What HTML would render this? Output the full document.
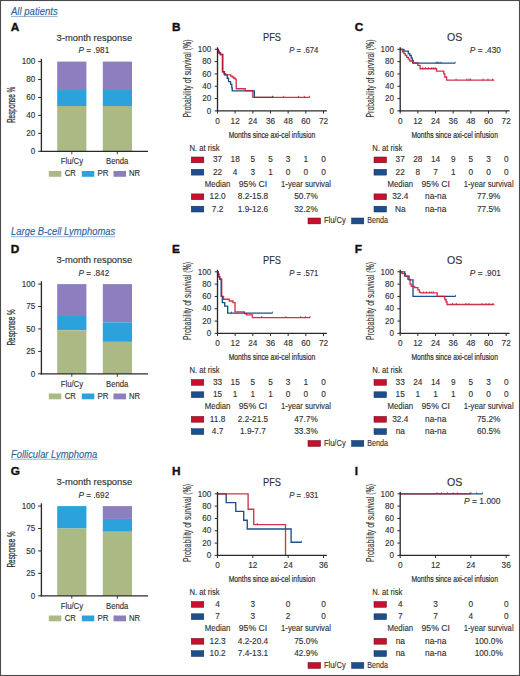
<!DOCTYPE html>
<html><head><meta charset="utf-8"><style>
html,body{margin:0;padding:0;background:#fff;}
body{width:520px;height:676px;overflow:hidden;position:relative;}
svg{position:absolute;left:0;top:0;font-family:"Liberation Sans", sans-serif;}
</style></head><body>
<svg width="520" height="676" viewBox="0 0 520 676">
<rect x="0" y="0" width="520" height="676" fill="#fff"/>
<text x="11.00" y="15.00" font-size="10.2" text-anchor="start" fill="#2f5f97" stroke="#2f5f97" stroke-width="0.12" textLength="46.70" lengthAdjust="spacingAndGlyphs" font-style="italic">All patients</text>
<line x1="11.00" y1="16.40" x2="57.70" y2="16.40" stroke="#7f9cc0" stroke-width="0.8"/>
<text x="11.00" y="235.30" font-size="10.2" text-anchor="start" fill="#2f5f97" stroke="#2f5f97" stroke-width="0.12" textLength="104.25" lengthAdjust="spacingAndGlyphs" font-style="italic">Large B-cell Lymphomas</text>
<line x1="11.00" y1="236.70" x2="115.25" y2="236.70" stroke="#7f9cc0" stroke-width="0.8"/>
<text x="11.00" y="457.80" font-size="10.2" text-anchor="start" fill="#2f5f97" stroke="#2f5f97" stroke-width="0.12" textLength="86.25" lengthAdjust="spacingAndGlyphs" font-style="italic">Follicular Lymphoma</text>
<line x1="11.00" y1="459.20" x2="97.25" y2="459.20" stroke="#7f9cc0" stroke-width="0.8"/>
<text x="10.80" y="30.90" font-size="11.8" text-anchor="start" fill="#111" stroke="#111" stroke-width="0.4" font-weight="bold">A</text>
<text x="172.10" y="30.90" font-size="11.8" text-anchor="start" fill="#111" stroke="#111" stroke-width="0.4" font-weight="bold">B</text>
<text x="354.80" y="30.90" font-size="11.8" text-anchor="start" fill="#111" stroke="#111" stroke-width="0.4" font-weight="bold">C</text>
<text x="10.80" y="253.40" font-size="11.8" text-anchor="start" fill="#111" stroke="#111" stroke-width="0.4" font-weight="bold">D</text>
<text x="172.10" y="253.40" font-size="11.8" text-anchor="start" fill="#111" stroke="#111" stroke-width="0.4" font-weight="bold">E</text>
<text x="354.80" y="253.40" font-size="11.8" text-anchor="start" fill="#111" stroke="#111" stroke-width="0.4" font-weight="bold">F</text>
<text x="10.80" y="475.40" font-size="11.8" text-anchor="start" fill="#111" stroke="#111" stroke-width="0.4" font-weight="bold">G</text>
<text x="172.10" y="475.40" font-size="11.8" text-anchor="start" fill="#111" stroke="#111" stroke-width="0.4" font-weight="bold">H</text>
<text x="354.80" y="475.40" font-size="11.8" text-anchor="start" fill="#111" stroke="#111" stroke-width="0.4" font-weight="bold">I</text>
<text x="56.60" y="40.90" font-size="9" text-anchor="start" fill="#2e2e2e" stroke="#2e2e2e" stroke-width="0.12" textLength="75.60" lengthAdjust="spacingAndGlyphs">3-month response</text>
<text transform="translate(14.6,104.90) rotate(-90)" x="0" y="0" font-size="10.4" text-anchor="middle" fill="#2e2e2e" stroke="#2e2e2e" stroke-width="0.25" textLength="36.3" lengthAdjust="spacingAndGlyphs">Response %</text>
<text x="78.5" y="53.20" font-size="9" fill="#2e2e2e" stroke="#2e2e2e" stroke-width="0.12" textLength="30.7" lengthAdjust="spacingAndGlyphs"><tspan font-style="italic">P</tspan> = .981</text>
<rect x="57.20" y="61.60" width="29.20" height="28.43" fill="#8d7fbf"/>
<rect x="57.20" y="90.03" width="29.20" height="15.97" fill="#2ba2dc"/>
<rect x="57.20" y="106.00" width="29.20" height="45.30" fill="#abb985"/>
<rect x="102.80" y="61.60" width="29.20" height="28.43" fill="#8d7fbf"/>
<rect x="102.80" y="90.03" width="29.20" height="15.97" fill="#2ba2dc"/>
<rect x="102.80" y="106.00" width="29.20" height="45.30" fill="#abb985"/>
<line x1="41.40" y1="58.80" x2="41.40" y2="151.90" stroke="#2a2a2a" stroke-width="1.35"/>
<line x1="40.70" y1="151.30" x2="148.00" y2="151.30" stroke="#2a2a2a" stroke-width="1.35"/>
<line x1="38.20" y1="151.30" x2="41.40" y2="151.30" stroke="#2a2a2a" stroke-width="1"/>
<text x="35.20" y="154.00" font-size="8.4" text-anchor="end" fill="#2e2e2e" stroke="#2e2e2e" stroke-width="0.12" textLength="4.50" lengthAdjust="spacingAndGlyphs">0</text>
<line x1="38.20" y1="133.36" x2="41.40" y2="133.36" stroke="#2a2a2a" stroke-width="1"/>
<text x="35.20" y="136.06" font-size="8.4" text-anchor="end" fill="#2e2e2e" stroke="#2e2e2e" stroke-width="0.12" textLength="9.00" lengthAdjust="spacingAndGlyphs">20</text>
<line x1="38.20" y1="115.42" x2="41.40" y2="115.42" stroke="#2a2a2a" stroke-width="1"/>
<text x="35.20" y="118.12" font-size="8.4" text-anchor="end" fill="#2e2e2e" stroke="#2e2e2e" stroke-width="0.12" textLength="9.00" lengthAdjust="spacingAndGlyphs">40</text>
<line x1="38.20" y1="97.48" x2="41.40" y2="97.48" stroke="#2a2a2a" stroke-width="1"/>
<text x="35.20" y="100.18" font-size="8.4" text-anchor="end" fill="#2e2e2e" stroke="#2e2e2e" stroke-width="0.12" textLength="9.00" lengthAdjust="spacingAndGlyphs">60</text>
<line x1="38.20" y1="79.54" x2="41.40" y2="79.54" stroke="#2a2a2a" stroke-width="1"/>
<text x="35.20" y="82.24" font-size="8.4" text-anchor="end" fill="#2e2e2e" stroke="#2e2e2e" stroke-width="0.12" textLength="9.00" lengthAdjust="spacingAndGlyphs">80</text>
<line x1="38.20" y1="61.60" x2="41.40" y2="61.60" stroke="#2a2a2a" stroke-width="1"/>
<text x="35.20" y="64.30" font-size="8.4" text-anchor="end" fill="#2e2e2e" stroke="#2e2e2e" stroke-width="0.12" textLength="13.50" lengthAdjust="spacingAndGlyphs">100</text>
<line x1="71.80" y1="151.30" x2="71.80" y2="154.30" stroke="#2a2a2a" stroke-width="0.9"/>
<line x1="117.30" y1="151.30" x2="117.30" y2="154.30" stroke="#2a2a2a" stroke-width="0.9"/>
<text x="71.90" y="164.30" font-size="8.5" text-anchor="middle" fill="#2e2e2e" stroke="#2e2e2e" stroke-width="0.12" textLength="22.50" lengthAdjust="spacingAndGlyphs">Flu/Cy</text>
<text x="117.20" y="164.30" font-size="8.5" text-anchor="middle" fill="#2e2e2e" stroke="#2e2e2e" stroke-width="0.12" textLength="22.30" lengthAdjust="spacingAndGlyphs">Benda</text>
<rect x="48.80" y="171.00" width="12.50" height="5.80" fill="#abb985"/>
<text x="64.70" y="176.40" font-size="8.4" text-anchor="start" fill="#2e2e2e" stroke="#2e2e2e" stroke-width="0.12" textLength="11.10" lengthAdjust="spacingAndGlyphs">CR</text>
<rect x="81.80" y="171.00" width="12.50" height="5.80" fill="#2ba2dc"/>
<text x="97.50" y="176.40" font-size="8.4" text-anchor="start" fill="#2e2e2e" stroke="#2e2e2e" stroke-width="0.12" textLength="11.10" lengthAdjust="spacingAndGlyphs">PR</text>
<rect x="113.50" y="171.00" width="12.50" height="5.80" fill="#8d7fbf"/>
<text x="128.90" y="176.40" font-size="8.4" text-anchor="start" fill="#2e2e2e" stroke="#2e2e2e" stroke-width="0.12" textLength="11.10" lengthAdjust="spacingAndGlyphs">NR</text>
<text x="56.60" y="263.40" font-size="9" text-anchor="start" fill="#2e2e2e" stroke="#2e2e2e" stroke-width="0.12" textLength="75.60" lengthAdjust="spacingAndGlyphs">3-month response</text>
<text transform="translate(14.6,327.40) rotate(-90)" x="0" y="0" font-size="10.4" text-anchor="middle" fill="#2e2e2e" stroke="#2e2e2e" stroke-width="0.25" textLength="36.3" lengthAdjust="spacingAndGlyphs">Response %</text>
<text x="78.5" y="275.70" font-size="9" fill="#2e2e2e" stroke="#2e2e2e" stroke-width="0.12" textLength="30.7" lengthAdjust="spacingAndGlyphs"><tspan font-style="italic">P</tspan> = .842</text>
<rect x="57.20" y="284.10" width="29.20" height="31.93" fill="#8d7fbf"/>
<rect x="57.20" y="316.03" width="29.20" height="14.26" fill="#2ba2dc"/>
<rect x="57.20" y="330.30" width="29.20" height="43.50" fill="#abb985"/>
<rect x="102.80" y="284.10" width="29.20" height="38.21" fill="#8d7fbf"/>
<rect x="102.80" y="322.31" width="29.20" height="19.55" fill="#2ba2dc"/>
<rect x="102.80" y="341.87" width="29.20" height="31.93" fill="#abb985"/>
<line x1="41.40" y1="281.30" x2="41.40" y2="374.40" stroke="#2a2a2a" stroke-width="1.35"/>
<line x1="40.70" y1="373.80" x2="148.00" y2="373.80" stroke="#2a2a2a" stroke-width="1.35"/>
<line x1="38.20" y1="373.80" x2="41.40" y2="373.80" stroke="#2a2a2a" stroke-width="1"/>
<text x="35.20" y="376.50" font-size="8.4" text-anchor="end" fill="#2e2e2e" stroke="#2e2e2e" stroke-width="0.12" textLength="4.50" lengthAdjust="spacingAndGlyphs">0</text>
<line x1="38.20" y1="351.38" x2="41.40" y2="351.38" stroke="#2a2a2a" stroke-width="1"/>
<text x="35.20" y="354.07" font-size="8.4" text-anchor="end" fill="#2e2e2e" stroke="#2e2e2e" stroke-width="0.12" textLength="9.00" lengthAdjust="spacingAndGlyphs">25</text>
<line x1="38.20" y1="328.95" x2="41.40" y2="328.95" stroke="#2a2a2a" stroke-width="1"/>
<text x="35.20" y="331.65" font-size="8.4" text-anchor="end" fill="#2e2e2e" stroke="#2e2e2e" stroke-width="0.12" textLength="9.00" lengthAdjust="spacingAndGlyphs">50</text>
<line x1="38.20" y1="306.53" x2="41.40" y2="306.53" stroke="#2a2a2a" stroke-width="1"/>
<text x="35.20" y="309.23" font-size="8.4" text-anchor="end" fill="#2e2e2e" stroke="#2e2e2e" stroke-width="0.12" textLength="9.00" lengthAdjust="spacingAndGlyphs">75</text>
<line x1="38.20" y1="284.10" x2="41.40" y2="284.10" stroke="#2a2a2a" stroke-width="1"/>
<text x="35.20" y="286.80" font-size="8.4" text-anchor="end" fill="#2e2e2e" stroke="#2e2e2e" stroke-width="0.12" textLength="13.50" lengthAdjust="spacingAndGlyphs">100</text>
<line x1="71.80" y1="373.80" x2="71.80" y2="376.80" stroke="#2a2a2a" stroke-width="0.9"/>
<line x1="117.30" y1="373.80" x2="117.30" y2="376.80" stroke="#2a2a2a" stroke-width="0.9"/>
<text x="71.90" y="386.80" font-size="8.5" text-anchor="middle" fill="#2e2e2e" stroke="#2e2e2e" stroke-width="0.12" textLength="22.50" lengthAdjust="spacingAndGlyphs">Flu/Cy</text>
<text x="117.20" y="386.80" font-size="8.5" text-anchor="middle" fill="#2e2e2e" stroke="#2e2e2e" stroke-width="0.12" textLength="22.30" lengthAdjust="spacingAndGlyphs">Benda</text>
<rect x="48.80" y="393.50" width="12.50" height="5.80" fill="#abb985"/>
<text x="64.70" y="398.90" font-size="8.4" text-anchor="start" fill="#2e2e2e" stroke="#2e2e2e" stroke-width="0.12" textLength="11.10" lengthAdjust="spacingAndGlyphs">CR</text>
<rect x="81.80" y="393.50" width="12.50" height="5.80" fill="#2ba2dc"/>
<text x="97.50" y="398.90" font-size="8.4" text-anchor="start" fill="#2e2e2e" stroke="#2e2e2e" stroke-width="0.12" textLength="11.10" lengthAdjust="spacingAndGlyphs">PR</text>
<rect x="113.50" y="393.50" width="12.50" height="5.80" fill="#8d7fbf"/>
<text x="128.90" y="398.90" font-size="8.4" text-anchor="start" fill="#2e2e2e" stroke="#2e2e2e" stroke-width="0.12" textLength="11.10" lengthAdjust="spacingAndGlyphs">NR</text>
<text x="56.60" y="485.40" font-size="9" text-anchor="start" fill="#2e2e2e" stroke="#2e2e2e" stroke-width="0.12" textLength="75.60" lengthAdjust="spacingAndGlyphs">3-month response</text>
<text transform="translate(14.6,549.40) rotate(-90)" x="0" y="0" font-size="10.4" text-anchor="middle" fill="#2e2e2e" stroke="#2e2e2e" stroke-width="0.25" textLength="36.3" lengthAdjust="spacingAndGlyphs">Response %</text>
<text x="78.5" y="497.70" font-size="9" fill="#2e2e2e" stroke="#2e2e2e" stroke-width="0.12" textLength="30.7" lengthAdjust="spacingAndGlyphs"><tspan font-style="italic">P</tspan> = .692</text>
<rect x="57.20" y="506.10" width="29.20" height="0.00" fill="#8d7fbf"/>
<rect x="57.20" y="506.10" width="29.20" height="22.42" fill="#2ba2dc"/>
<rect x="57.20" y="528.52" width="29.20" height="67.27" fill="#abb985"/>
<rect x="102.80" y="506.10" width="29.20" height="12.83" fill="#8d7fbf"/>
<rect x="102.80" y="518.93" width="29.20" height="12.83" fill="#2ba2dc"/>
<rect x="102.80" y="531.75" width="29.20" height="64.05" fill="#abb985"/>
<line x1="41.40" y1="503.30" x2="41.40" y2="596.40" stroke="#2a2a2a" stroke-width="1.35"/>
<line x1="40.70" y1="595.80" x2="148.00" y2="595.80" stroke="#2a2a2a" stroke-width="1.35"/>
<line x1="38.20" y1="595.80" x2="41.40" y2="595.80" stroke="#2a2a2a" stroke-width="1"/>
<text x="35.20" y="598.50" font-size="8.4" text-anchor="end" fill="#2e2e2e" stroke="#2e2e2e" stroke-width="0.12" textLength="4.50" lengthAdjust="spacingAndGlyphs">0</text>
<line x1="38.20" y1="573.38" x2="41.40" y2="573.38" stroke="#2a2a2a" stroke-width="1"/>
<text x="35.20" y="576.08" font-size="8.4" text-anchor="end" fill="#2e2e2e" stroke="#2e2e2e" stroke-width="0.12" textLength="9.00" lengthAdjust="spacingAndGlyphs">25</text>
<line x1="38.20" y1="550.95" x2="41.40" y2="550.95" stroke="#2a2a2a" stroke-width="1"/>
<text x="35.20" y="553.65" font-size="8.4" text-anchor="end" fill="#2e2e2e" stroke="#2e2e2e" stroke-width="0.12" textLength="9.00" lengthAdjust="spacingAndGlyphs">50</text>
<line x1="38.20" y1="528.52" x2="41.40" y2="528.52" stroke="#2a2a2a" stroke-width="1"/>
<text x="35.20" y="531.23" font-size="8.4" text-anchor="end" fill="#2e2e2e" stroke="#2e2e2e" stroke-width="0.12" textLength="9.00" lengthAdjust="spacingAndGlyphs">75</text>
<line x1="38.20" y1="506.10" x2="41.40" y2="506.10" stroke="#2a2a2a" stroke-width="1"/>
<text x="35.20" y="508.80" font-size="8.4" text-anchor="end" fill="#2e2e2e" stroke="#2e2e2e" stroke-width="0.12" textLength="13.50" lengthAdjust="spacingAndGlyphs">100</text>
<line x1="71.80" y1="595.80" x2="71.80" y2="598.80" stroke="#2a2a2a" stroke-width="0.9"/>
<line x1="117.30" y1="595.80" x2="117.30" y2="598.80" stroke="#2a2a2a" stroke-width="0.9"/>
<text x="71.90" y="608.80" font-size="8.5" text-anchor="middle" fill="#2e2e2e" stroke="#2e2e2e" stroke-width="0.12" textLength="22.50" lengthAdjust="spacingAndGlyphs">Flu/Cy</text>
<text x="117.20" y="608.80" font-size="8.5" text-anchor="middle" fill="#2e2e2e" stroke="#2e2e2e" stroke-width="0.12" textLength="22.30" lengthAdjust="spacingAndGlyphs">Benda</text>
<rect x="48.80" y="615.50" width="12.50" height="5.80" fill="#abb985"/>
<text x="64.70" y="620.90" font-size="8.4" text-anchor="start" fill="#2e2e2e" stroke="#2e2e2e" stroke-width="0.12" textLength="11.10" lengthAdjust="spacingAndGlyphs">CR</text>
<rect x="81.80" y="615.50" width="12.50" height="5.80" fill="#2ba2dc"/>
<text x="97.50" y="620.90" font-size="8.4" text-anchor="start" fill="#2e2e2e" stroke="#2e2e2e" stroke-width="0.12" textLength="11.10" lengthAdjust="spacingAndGlyphs">PR</text>
<rect x="113.50" y="615.50" width="12.50" height="5.80" fill="#8d7fbf"/>
<text x="128.90" y="620.90" font-size="8.4" text-anchor="start" fill="#2e2e2e" stroke="#2e2e2e" stroke-width="0.12" textLength="11.10" lengthAdjust="spacingAndGlyphs">NR</text>
<text x="272.00" y="41.10" font-size="10.5" text-anchor="middle" fill="#2e2e2e" stroke="#2e2e2e" stroke-width="0.12" textLength="18.00" lengthAdjust="spacingAndGlyphs">PFS</text>
<text x="318.30" y="53.40" font-size="9" text-anchor="end" fill="#2e2e2e" stroke="#2e2e2e" stroke-width="0.12" textLength="29" lengthAdjust="spacingAndGlyphs"><tspan font-style="italic">P</tspan> = .674</text>
<text transform="translate(191.20,78.50) rotate(-90)" x="0" y="0" font-size="10" text-anchor="middle" fill="#2e2e2e" stroke="#2e2e2e" stroke-width="0.12" textLength="78" lengthAdjust="spacingAndGlyphs">Probability of survival (%)</text>
<path d="M217.50,49.30 H218.24 V51.15 H218.97 V53.00 H220.44 V54.54 H222.80 V71.78 H224.42 V74.80 H227.22 V78.25 H228.54 V81.64 H230.60 V84.41 H231.78 V87.80 H232.22 V90.88 H254.31 V97.35 H272.71" fill="none" stroke="#1d4f8c" stroke-width="1.35"/>
<path d="M217.50,49.30 H218.24 V51.15 H218.97 V53.00 H220.44 V54.54 H222.36 V71.78 H223.98 V73.63 H225.60 V74.80 H230.75 V76.10 H232.22 V77.02 H233.69 V78.25 H235.17 V79.18 H236.20 V88.72 H245.18 V90.57 H252.83 V97.35 H309.66" fill="none" stroke="#c8102e" stroke-width="1.35" stroke-opacity="0.85"/>
<line x1="272.71" y1="95.85" x2="272.71" y2="97.65" stroke="#c8102e" stroke-width="0.8"/>
<line x1="283.75" y1="95.85" x2="283.75" y2="97.65" stroke="#c8102e" stroke-width="0.8"/>
<line x1="298.47" y1="95.85" x2="298.47" y2="97.65" stroke="#c8102e" stroke-width="0.8"/>
<line x1="304.36" y1="95.85" x2="304.36" y2="97.65" stroke="#c8102e" stroke-width="0.8"/>
<line x1="309.66" y1="95.85" x2="309.66" y2="97.65" stroke="#c8102e" stroke-width="0.8"/>
<line x1="272.71" y1="95.85" x2="272.71" y2="97.65" stroke="#1d4f8c" stroke-width="0.8"/>
<line x1="217.50" y1="47.30" x2="217.50" y2="111.50" stroke="#2a2a2a" stroke-width="1.35"/>
<line x1="216.90" y1="110.90" x2="326.90" y2="110.90" stroke="#2a2a2a" stroke-width="1.35"/>
<line x1="214.70" y1="110.90" x2="217.50" y2="110.90" stroke="#2a2a2a" stroke-width="1"/>
<text x="211.20" y="113.60" font-size="8.4" text-anchor="end" fill="#2e2e2e" stroke="#2e2e2e" stroke-width="0.12" textLength="4.50" lengthAdjust="spacingAndGlyphs">0</text>
<line x1="214.70" y1="98.58" x2="217.50" y2="98.58" stroke="#2a2a2a" stroke-width="1"/>
<text x="211.20" y="101.28" font-size="8.4" text-anchor="end" fill="#2e2e2e" stroke="#2e2e2e" stroke-width="0.12" textLength="9.00" lengthAdjust="spacingAndGlyphs">20</text>
<line x1="214.70" y1="86.26" x2="217.50" y2="86.26" stroke="#2a2a2a" stroke-width="1"/>
<text x="211.20" y="88.96" font-size="8.4" text-anchor="end" fill="#2e2e2e" stroke="#2e2e2e" stroke-width="0.12" textLength="9.00" lengthAdjust="spacingAndGlyphs">40</text>
<line x1="214.70" y1="73.94" x2="217.50" y2="73.94" stroke="#2a2a2a" stroke-width="1"/>
<text x="211.20" y="76.64" font-size="8.4" text-anchor="end" fill="#2e2e2e" stroke="#2e2e2e" stroke-width="0.12" textLength="9.00" lengthAdjust="spacingAndGlyphs">60</text>
<line x1="214.70" y1="61.62" x2="217.50" y2="61.62" stroke="#2a2a2a" stroke-width="1"/>
<text x="211.20" y="64.32" font-size="8.4" text-anchor="end" fill="#2e2e2e" stroke="#2e2e2e" stroke-width="0.12" textLength="9.00" lengthAdjust="spacingAndGlyphs">80</text>
<line x1="214.70" y1="49.30" x2="217.50" y2="49.30" stroke="#2a2a2a" stroke-width="1"/>
<text x="211.20" y="52.00" font-size="8.4" text-anchor="end" fill="#2e2e2e" stroke="#2e2e2e" stroke-width="0.12" textLength="13.50" lengthAdjust="spacingAndGlyphs">100</text>
<line x1="217.50" y1="110.90" x2="217.50" y2="113.50" stroke="#2a2a2a" stroke-width="1"/>
<text x="217.50" y="123.70" font-size="8.4" text-anchor="middle" fill="#2e2e2e" stroke="#2e2e2e" stroke-width="0.12" textLength="4.60" lengthAdjust="spacingAndGlyphs">0</text>
<line x1="235.17" y1="110.90" x2="235.17" y2="113.50" stroke="#2a2a2a" stroke-width="1"/>
<text x="235.17" y="123.70" font-size="8.4" text-anchor="middle" fill="#2e2e2e" stroke="#2e2e2e" stroke-width="0.12" textLength="9.20" lengthAdjust="spacingAndGlyphs">12</text>
<line x1="252.83" y1="110.90" x2="252.83" y2="113.50" stroke="#2a2a2a" stroke-width="1"/>
<text x="252.83" y="123.70" font-size="8.4" text-anchor="middle" fill="#2e2e2e" stroke="#2e2e2e" stroke-width="0.12" textLength="9.20" lengthAdjust="spacingAndGlyphs">24</text>
<line x1="270.50" y1="110.90" x2="270.50" y2="113.50" stroke="#2a2a2a" stroke-width="1"/>
<text x="270.50" y="123.70" font-size="8.4" text-anchor="middle" fill="#2e2e2e" stroke="#2e2e2e" stroke-width="0.12" textLength="9.20" lengthAdjust="spacingAndGlyphs">36</text>
<line x1="288.17" y1="110.90" x2="288.17" y2="113.50" stroke="#2a2a2a" stroke-width="1"/>
<text x="288.17" y="123.70" font-size="8.4" text-anchor="middle" fill="#2e2e2e" stroke="#2e2e2e" stroke-width="0.12" textLength="9.20" lengthAdjust="spacingAndGlyphs">48</text>
<line x1="305.83" y1="110.90" x2="305.83" y2="113.50" stroke="#2a2a2a" stroke-width="1"/>
<text x="305.83" y="123.70" font-size="8.4" text-anchor="middle" fill="#2e2e2e" stroke="#2e2e2e" stroke-width="0.12" textLength="9.20" lengthAdjust="spacingAndGlyphs">60</text>
<line x1="323.50" y1="110.90" x2="323.50" y2="113.50" stroke="#2a2a2a" stroke-width="1"/>
<text x="323.50" y="123.70" font-size="8.4" text-anchor="middle" fill="#2e2e2e" stroke="#2e2e2e" stroke-width="0.12" textLength="9.20" lengthAdjust="spacingAndGlyphs">72</text>
<text x="228.70" y="137.50" font-size="9.7" text-anchor="start" fill="#2e2e2e" stroke="#2e2e2e" stroke-width="0.22" textLength="86.50" lengthAdjust="spacingAndGlyphs">Months since axi-cel infusion</text>
<text x="189.50" y="150.50" font-size="8.5" text-anchor="start" fill="#2e2e2e" stroke="#2e2e2e" stroke-width="0.12" textLength="30.20" lengthAdjust="spacingAndGlyphs">N. at risk</text>
<rect x="191.30" y="157.00" width="12.50" height="5.80" fill="#c8102e" stroke="#5a0a1a" stroke-width="0.5"/>
<text x="217.50" y="162.30" font-size="8.3" text-anchor="middle" fill="#2e2e2e" stroke="#2e2e2e" stroke-width="0.12" textLength="9.20" lengthAdjust="spacingAndGlyphs">37</text>
<text x="235.17" y="162.30" font-size="8.3" text-anchor="middle" fill="#2e2e2e" stroke="#2e2e2e" stroke-width="0.12" textLength="9.20" lengthAdjust="spacingAndGlyphs">18</text>
<text x="252.83" y="162.30" font-size="8.3" text-anchor="middle" fill="#2e2e2e" stroke="#2e2e2e" stroke-width="0.12" textLength="4.60" lengthAdjust="spacingAndGlyphs">5</text>
<text x="270.50" y="162.30" font-size="8.3" text-anchor="middle" fill="#2e2e2e" stroke="#2e2e2e" stroke-width="0.12" textLength="4.60" lengthAdjust="spacingAndGlyphs">5</text>
<text x="288.17" y="162.30" font-size="8.3" text-anchor="middle" fill="#2e2e2e" stroke="#2e2e2e" stroke-width="0.12" textLength="4.60" lengthAdjust="spacingAndGlyphs">3</text>
<text x="305.83" y="162.30" font-size="8.3" text-anchor="middle" fill="#2e2e2e" stroke="#2e2e2e" stroke-width="0.12" textLength="4.60" lengthAdjust="spacingAndGlyphs">1</text>
<text x="323.50" y="162.30" font-size="8.3" text-anchor="middle" fill="#2e2e2e" stroke="#2e2e2e" stroke-width="0.12" textLength="4.60" lengthAdjust="spacingAndGlyphs">0</text>
<rect x="191.30" y="169.30" width="12.50" height="5.80" fill="#1d4f8c" stroke="#0d2a50" stroke-width="0.5"/>
<text x="217.50" y="174.60" font-size="8.3" text-anchor="middle" fill="#2e2e2e" stroke="#2e2e2e" stroke-width="0.12" textLength="9.20" lengthAdjust="spacingAndGlyphs">22</text>
<text x="235.17" y="174.60" font-size="8.3" text-anchor="middle" fill="#2e2e2e" stroke="#2e2e2e" stroke-width="0.12" textLength="4.60" lengthAdjust="spacingAndGlyphs">4</text>
<text x="252.83" y="174.60" font-size="8.3" text-anchor="middle" fill="#2e2e2e" stroke="#2e2e2e" stroke-width="0.12" textLength="4.60" lengthAdjust="spacingAndGlyphs">3</text>
<text x="270.50" y="174.60" font-size="8.3" text-anchor="middle" fill="#2e2e2e" stroke="#2e2e2e" stroke-width="0.12" textLength="4.60" lengthAdjust="spacingAndGlyphs">1</text>
<text x="288.17" y="174.60" font-size="8.3" text-anchor="middle" fill="#2e2e2e" stroke="#2e2e2e" stroke-width="0.12" textLength="4.60" lengthAdjust="spacingAndGlyphs">0</text>
<text x="305.83" y="174.60" font-size="8.3" text-anchor="middle" fill="#2e2e2e" stroke="#2e2e2e" stroke-width="0.12" textLength="4.60" lengthAdjust="spacingAndGlyphs">0</text>
<text x="323.50" y="174.60" font-size="8.3" text-anchor="middle" fill="#2e2e2e" stroke="#2e2e2e" stroke-width="0.12" textLength="4.60" lengthAdjust="spacingAndGlyphs">0</text>
<text x="217.60" y="186.50" font-size="8.2" text-anchor="middle" fill="#2e2e2e" stroke="#2e2e2e" stroke-width="0.12" textLength="25.50" lengthAdjust="spacingAndGlyphs">Median</text>
<text x="253.00" y="186.50" font-size="8.2" text-anchor="middle" fill="#2e2e2e" stroke="#2e2e2e" stroke-width="0.12" textLength="28.40" lengthAdjust="spacingAndGlyphs">95% CI</text>
<text x="306.00" y="186.50" font-size="8.2" text-anchor="middle" fill="#2e2e2e" stroke="#2e2e2e" stroke-width="0.12" textLength="49.80" lengthAdjust="spacingAndGlyphs">1-year survival</text>
<rect x="191.30" y="193.90" width="12.50" height="5.80" fill="#c8102e" stroke="#5a0a1a" stroke-width="0.5"/>
<text x="217.60" y="199.20" font-size="8.3" text-anchor="middle" fill="#2e2e2e" stroke="#2e2e2e" stroke-width="0.12">12.0</text>
<text x="253.00" y="199.20" font-size="8.3" text-anchor="middle" fill="#2e2e2e" stroke="#2e2e2e" stroke-width="0.12">8.2-15.8</text>
<text x="306.00" y="199.20" font-size="8.3" text-anchor="middle" fill="#2e2e2e" stroke="#2e2e2e" stroke-width="0.12">50.7%</text>
<rect x="191.30" y="206.20" width="12.50" height="5.80" fill="#1d4f8c" stroke="#0d2a50" stroke-width="0.5"/>
<text x="217.60" y="211.50" font-size="8.3" text-anchor="middle" fill="#2e2e2e" stroke="#2e2e2e" stroke-width="0.12">7.2</text>
<text x="253.00" y="211.50" font-size="8.3" text-anchor="middle" fill="#2e2e2e" stroke="#2e2e2e" stroke-width="0.12">1.9-12.6</text>
<text x="306.00" y="211.50" font-size="8.3" text-anchor="middle" fill="#2e2e2e" stroke="#2e2e2e" stroke-width="0.12">32.2%</text>
<text x="454.70" y="41.10" font-size="10.5" text-anchor="middle" fill="#2e2e2e" stroke="#2e2e2e" stroke-width="0.12" textLength="15.30" lengthAdjust="spacingAndGlyphs">OS</text>
<text x="501.00" y="53.40" font-size="9" text-anchor="end" fill="#2e2e2e" stroke="#2e2e2e" stroke-width="0.12" textLength="31.2" lengthAdjust="spacingAndGlyphs"><tspan font-style="italic">P</tspan> = .430</text>
<text transform="translate(373.90,78.50) rotate(-90)" x="0" y="0" font-size="10" text-anchor="middle" fill="#2e2e2e" stroke="#2e2e2e" stroke-width="0.12" textLength="78" lengthAdjust="spacingAndGlyphs">Probability of survival (%)</text>
<path d="M400.20,49.30 H403.88 V51.15 H408.30 V53.61 H409.77 V55.46 H411.24 V57.92 H412.27 V60.39 H413.16 V63.16 H454.97" fill="none" stroke="#1d4f8c" stroke-width="1.35"/>
<path d="M400.20,49.30 H402.41 V51.76 H403.88 V53.61 H405.35 V55.46 H406.82 V57.31 H408.30 V59.16 H409.77 V61.00 H412.71 V62.85 H417.87 V65.32 H420.07 V68.70 H436.56 V71.17 H443.78 V73.94 H444.81 V77.02 H446.57 V80.10 H494.27" fill="none" stroke="#c8102e" stroke-width="1.35" stroke-opacity="0.85"/>
<line x1="422.72" y1="67.20" x2="422.72" y2="69.00" stroke="#c8102e" stroke-width="0.8"/>
<line x1="425.52" y1="67.20" x2="425.52" y2="69.00" stroke="#c8102e" stroke-width="0.8"/>
<line x1="428.47" y1="67.20" x2="428.47" y2="69.00" stroke="#c8102e" stroke-width="0.8"/>
<line x1="431.26" y1="67.20" x2="431.26" y2="69.00" stroke="#c8102e" stroke-width="0.8"/>
<line x1="433.18" y1="67.20" x2="433.18" y2="69.00" stroke="#c8102e" stroke-width="0.8"/>
<line x1="435.09" y1="67.20" x2="435.09" y2="69.00" stroke="#c8102e" stroke-width="0.8"/>
<line x1="456.14" y1="78.60" x2="456.14" y2="80.40" stroke="#c8102e" stroke-width="0.8"/>
<line x1="466.74" y1="78.60" x2="466.74" y2="80.40" stroke="#c8102e" stroke-width="0.8"/>
<line x1="469.10" y1="78.60" x2="469.10" y2="80.40" stroke="#c8102e" stroke-width="0.8"/>
<line x1="470.43" y1="78.60" x2="470.43" y2="80.40" stroke="#c8102e" stroke-width="0.8"/>
<line x1="483.09" y1="78.60" x2="483.09" y2="80.40" stroke="#c8102e" stroke-width="0.8"/>
<line x1="487.94" y1="78.60" x2="487.94" y2="80.40" stroke="#c8102e" stroke-width="0.8"/>
<line x1="492.66" y1="78.60" x2="492.66" y2="80.40" stroke="#c8102e" stroke-width="0.8"/>
<line x1="436.12" y1="61.66" x2="436.12" y2="63.46" stroke="#1d4f8c" stroke-width="0.8"/>
<line x1="437.59" y1="61.66" x2="437.59" y2="63.46" stroke="#1d4f8c" stroke-width="0.8"/>
<line x1="438.92" y1="61.66" x2="438.92" y2="63.46" stroke="#1d4f8c" stroke-width="0.8"/>
<line x1="440.98" y1="61.66" x2="440.98" y2="63.46" stroke="#1d4f8c" stroke-width="0.8"/>
<line x1="455.26" y1="61.66" x2="455.26" y2="63.46" stroke="#1d4f8c" stroke-width="0.8"/>
<line x1="400.20" y1="47.30" x2="400.20" y2="111.50" stroke="#2a2a2a" stroke-width="1.35"/>
<line x1="399.60" y1="110.90" x2="509.60" y2="110.90" stroke="#2a2a2a" stroke-width="1.35"/>
<line x1="397.40" y1="110.90" x2="400.20" y2="110.90" stroke="#2a2a2a" stroke-width="1"/>
<text x="393.90" y="113.60" font-size="8.4" text-anchor="end" fill="#2e2e2e" stroke="#2e2e2e" stroke-width="0.12" textLength="4.50" lengthAdjust="spacingAndGlyphs">0</text>
<line x1="397.40" y1="98.58" x2="400.20" y2="98.58" stroke="#2a2a2a" stroke-width="1"/>
<text x="393.90" y="101.28" font-size="8.4" text-anchor="end" fill="#2e2e2e" stroke="#2e2e2e" stroke-width="0.12" textLength="9.00" lengthAdjust="spacingAndGlyphs">20</text>
<line x1="397.40" y1="86.26" x2="400.20" y2="86.26" stroke="#2a2a2a" stroke-width="1"/>
<text x="393.90" y="88.96" font-size="8.4" text-anchor="end" fill="#2e2e2e" stroke="#2e2e2e" stroke-width="0.12" textLength="9.00" lengthAdjust="spacingAndGlyphs">40</text>
<line x1="397.40" y1="73.94" x2="400.20" y2="73.94" stroke="#2a2a2a" stroke-width="1"/>
<text x="393.90" y="76.64" font-size="8.4" text-anchor="end" fill="#2e2e2e" stroke="#2e2e2e" stroke-width="0.12" textLength="9.00" lengthAdjust="spacingAndGlyphs">60</text>
<line x1="397.40" y1="61.62" x2="400.20" y2="61.62" stroke="#2a2a2a" stroke-width="1"/>
<text x="393.90" y="64.32" font-size="8.4" text-anchor="end" fill="#2e2e2e" stroke="#2e2e2e" stroke-width="0.12" textLength="9.00" lengthAdjust="spacingAndGlyphs">80</text>
<line x1="397.40" y1="49.30" x2="400.20" y2="49.30" stroke="#2a2a2a" stroke-width="1"/>
<text x="393.90" y="52.00" font-size="8.4" text-anchor="end" fill="#2e2e2e" stroke="#2e2e2e" stroke-width="0.12" textLength="13.50" lengthAdjust="spacingAndGlyphs">100</text>
<line x1="400.20" y1="110.90" x2="400.20" y2="113.50" stroke="#2a2a2a" stroke-width="1"/>
<text x="400.20" y="123.70" font-size="8.4" text-anchor="middle" fill="#2e2e2e" stroke="#2e2e2e" stroke-width="0.12" textLength="4.60" lengthAdjust="spacingAndGlyphs">0</text>
<line x1="417.87" y1="110.90" x2="417.87" y2="113.50" stroke="#2a2a2a" stroke-width="1"/>
<text x="417.87" y="123.70" font-size="8.4" text-anchor="middle" fill="#2e2e2e" stroke="#2e2e2e" stroke-width="0.12" textLength="9.20" lengthAdjust="spacingAndGlyphs">12</text>
<line x1="435.53" y1="110.90" x2="435.53" y2="113.50" stroke="#2a2a2a" stroke-width="1"/>
<text x="435.53" y="123.70" font-size="8.4" text-anchor="middle" fill="#2e2e2e" stroke="#2e2e2e" stroke-width="0.12" textLength="9.20" lengthAdjust="spacingAndGlyphs">24</text>
<line x1="453.20" y1="110.90" x2="453.20" y2="113.50" stroke="#2a2a2a" stroke-width="1"/>
<text x="453.20" y="123.70" font-size="8.4" text-anchor="middle" fill="#2e2e2e" stroke="#2e2e2e" stroke-width="0.12" textLength="9.20" lengthAdjust="spacingAndGlyphs">36</text>
<line x1="470.87" y1="110.90" x2="470.87" y2="113.50" stroke="#2a2a2a" stroke-width="1"/>
<text x="470.87" y="123.70" font-size="8.4" text-anchor="middle" fill="#2e2e2e" stroke="#2e2e2e" stroke-width="0.12" textLength="9.20" lengthAdjust="spacingAndGlyphs">48</text>
<line x1="488.53" y1="110.90" x2="488.53" y2="113.50" stroke="#2a2a2a" stroke-width="1"/>
<text x="488.53" y="123.70" font-size="8.4" text-anchor="middle" fill="#2e2e2e" stroke="#2e2e2e" stroke-width="0.12" textLength="9.20" lengthAdjust="spacingAndGlyphs">60</text>
<line x1="506.20" y1="110.90" x2="506.20" y2="113.50" stroke="#2a2a2a" stroke-width="1"/>
<text x="506.20" y="123.70" font-size="8.4" text-anchor="middle" fill="#2e2e2e" stroke="#2e2e2e" stroke-width="0.12" textLength="9.20" lengthAdjust="spacingAndGlyphs">72</text>
<text x="411.40" y="137.50" font-size="9.7" text-anchor="start" fill="#2e2e2e" stroke="#2e2e2e" stroke-width="0.22" textLength="86.50" lengthAdjust="spacingAndGlyphs">Months since axi-cel infusion</text>
<text x="372.20" y="150.50" font-size="8.5" text-anchor="start" fill="#2e2e2e" stroke="#2e2e2e" stroke-width="0.12" textLength="30.20" lengthAdjust="spacingAndGlyphs">N. at risk</text>
<rect x="374.00" y="157.00" width="12.50" height="5.80" fill="#c8102e" stroke="#5a0a1a" stroke-width="0.5"/>
<text x="400.20" y="162.30" font-size="8.3" text-anchor="middle" fill="#2e2e2e" stroke="#2e2e2e" stroke-width="0.12" textLength="9.20" lengthAdjust="spacingAndGlyphs">37</text>
<text x="417.87" y="162.30" font-size="8.3" text-anchor="middle" fill="#2e2e2e" stroke="#2e2e2e" stroke-width="0.12" textLength="9.20" lengthAdjust="spacingAndGlyphs">28</text>
<text x="435.53" y="162.30" font-size="8.3" text-anchor="middle" fill="#2e2e2e" stroke="#2e2e2e" stroke-width="0.12" textLength="9.20" lengthAdjust="spacingAndGlyphs">14</text>
<text x="453.20" y="162.30" font-size="8.3" text-anchor="middle" fill="#2e2e2e" stroke="#2e2e2e" stroke-width="0.12" textLength="4.60" lengthAdjust="spacingAndGlyphs">9</text>
<text x="470.87" y="162.30" font-size="8.3" text-anchor="middle" fill="#2e2e2e" stroke="#2e2e2e" stroke-width="0.12" textLength="4.60" lengthAdjust="spacingAndGlyphs">5</text>
<text x="488.53" y="162.30" font-size="8.3" text-anchor="middle" fill="#2e2e2e" stroke="#2e2e2e" stroke-width="0.12" textLength="4.60" lengthAdjust="spacingAndGlyphs">3</text>
<text x="506.20" y="162.30" font-size="8.3" text-anchor="middle" fill="#2e2e2e" stroke="#2e2e2e" stroke-width="0.12" textLength="4.60" lengthAdjust="spacingAndGlyphs">0</text>
<rect x="374.00" y="169.30" width="12.50" height="5.80" fill="#1d4f8c" stroke="#0d2a50" stroke-width="0.5"/>
<text x="400.20" y="174.60" font-size="8.3" text-anchor="middle" fill="#2e2e2e" stroke="#2e2e2e" stroke-width="0.12" textLength="9.20" lengthAdjust="spacingAndGlyphs">22</text>
<text x="417.87" y="174.60" font-size="8.3" text-anchor="middle" fill="#2e2e2e" stroke="#2e2e2e" stroke-width="0.12" textLength="4.60" lengthAdjust="spacingAndGlyphs">8</text>
<text x="435.53" y="174.60" font-size="8.3" text-anchor="middle" fill="#2e2e2e" stroke="#2e2e2e" stroke-width="0.12" textLength="4.60" lengthAdjust="spacingAndGlyphs">7</text>
<text x="453.20" y="174.60" font-size="8.3" text-anchor="middle" fill="#2e2e2e" stroke="#2e2e2e" stroke-width="0.12" textLength="4.60" lengthAdjust="spacingAndGlyphs">1</text>
<text x="470.87" y="174.60" font-size="8.3" text-anchor="middle" fill="#2e2e2e" stroke="#2e2e2e" stroke-width="0.12" textLength="4.60" lengthAdjust="spacingAndGlyphs">0</text>
<text x="488.53" y="174.60" font-size="8.3" text-anchor="middle" fill="#2e2e2e" stroke="#2e2e2e" stroke-width="0.12" textLength="4.60" lengthAdjust="spacingAndGlyphs">0</text>
<text x="506.20" y="174.60" font-size="8.3" text-anchor="middle" fill="#2e2e2e" stroke="#2e2e2e" stroke-width="0.12" textLength="4.60" lengthAdjust="spacingAndGlyphs">0</text>
<text x="400.30" y="186.50" font-size="8.2" text-anchor="middle" fill="#2e2e2e" stroke="#2e2e2e" stroke-width="0.12" textLength="25.50" lengthAdjust="spacingAndGlyphs">Median</text>
<text x="435.70" y="186.50" font-size="8.2" text-anchor="middle" fill="#2e2e2e" stroke="#2e2e2e" stroke-width="0.12" textLength="28.40" lengthAdjust="spacingAndGlyphs">95% CI</text>
<text x="488.70" y="186.50" font-size="8.2" text-anchor="middle" fill="#2e2e2e" stroke="#2e2e2e" stroke-width="0.12" textLength="49.80" lengthAdjust="spacingAndGlyphs">1-year survival</text>
<rect x="374.00" y="193.90" width="12.50" height="5.80" fill="#c8102e" stroke="#5a0a1a" stroke-width="0.5"/>
<text x="400.30" y="199.20" font-size="8.3" text-anchor="middle" fill="#2e2e2e" stroke="#2e2e2e" stroke-width="0.12">32.4</text>
<text x="435.70" y="199.20" font-size="8.3" text-anchor="middle" fill="#2e2e2e" stroke="#2e2e2e" stroke-width="0.12">na-na</text>
<text x="488.70" y="199.20" font-size="8.3" text-anchor="middle" fill="#2e2e2e" stroke="#2e2e2e" stroke-width="0.12">77.9%</text>
<rect x="374.00" y="206.20" width="12.50" height="5.80" fill="#1d4f8c" stroke="#0d2a50" stroke-width="0.5"/>
<text x="400.30" y="211.50" font-size="8.3" text-anchor="middle" fill="#2e2e2e" stroke="#2e2e2e" stroke-width="0.12">Na</text>
<text x="435.70" y="211.50" font-size="8.3" text-anchor="middle" fill="#2e2e2e" stroke="#2e2e2e" stroke-width="0.12">na-na</text>
<text x="488.70" y="211.50" font-size="8.3" text-anchor="middle" fill="#2e2e2e" stroke="#2e2e2e" stroke-width="0.12">77.5%</text>
<rect x="308.00" y="218.00" width="12.60" height="5.90" fill="#c8102e" stroke="#5a0a1a" stroke-width="0.5"/>
<text x="323.90" y="223.40" font-size="8.5" text-anchor="start" fill="#2e2e2e" stroke="#2e2e2e" stroke-width="0.12" textLength="21.80" lengthAdjust="spacingAndGlyphs">Flu/Cy</text>
<rect x="351.60" y="218.00" width="12.20" height="5.90" fill="#1d4f8c" stroke="#0d2a50" stroke-width="0.5"/>
<text x="367.30" y="223.40" font-size="8.5" text-anchor="start" fill="#2e2e2e" stroke="#2e2e2e" stroke-width="0.12" textLength="20.70" lengthAdjust="spacingAndGlyphs">Benda</text>
<text x="272.00" y="263.60" font-size="10.5" text-anchor="middle" fill="#2e2e2e" stroke="#2e2e2e" stroke-width="0.12" textLength="18.00" lengthAdjust="spacingAndGlyphs">PFS</text>
<text x="318.30" y="275.90" font-size="9" text-anchor="end" fill="#2e2e2e" stroke="#2e2e2e" stroke-width="0.12" textLength="29" lengthAdjust="spacingAndGlyphs"><tspan font-style="italic">P</tspan> = .571</text>
<text transform="translate(191.20,301.00) rotate(-90)" x="0" y="0" font-size="10" text-anchor="middle" fill="#2e2e2e" stroke="#2e2e2e" stroke-width="0.12" textLength="78" lengthAdjust="spacingAndGlyphs">Probability of survival (%)</text>
<path d="M217.50,271.80 H218.09 V274.26 H218.82 V276.73 H219.71 V279.19 H221.18 V296.44 H222.36 V302.60 H224.71 V306.11 H227.66 V313.07 H272.41" fill="none" stroke="#1d4f8c" stroke-width="1.35"/>
<path d="M217.50,271.80 H218.09 V274.26 H218.82 V276.73 H219.71 V279.19 H221.70 V296.44 H223.54 V299.21 H229.28 V301.00 H232.96 V302.60 H235.02 V311.84 H244.29 V313.56 H246.50 V314.92 H252.39 V317.63 H309.96" fill="none" stroke="#c8102e" stroke-width="1.35" stroke-opacity="0.85"/>
<line x1="261.67" y1="316.13" x2="261.67" y2="317.93" stroke="#c8102e" stroke-width="0.8"/>
<line x1="285.81" y1="316.13" x2="285.81" y2="317.93" stroke="#c8102e" stroke-width="0.8"/>
<line x1="300.68" y1="316.13" x2="300.68" y2="317.93" stroke="#c8102e" stroke-width="0.8"/>
<line x1="305.39" y1="316.13" x2="305.39" y2="317.93" stroke="#c8102e" stroke-width="0.8"/>
<line x1="309.96" y1="316.13" x2="309.96" y2="317.93" stroke="#c8102e" stroke-width="0.8"/>
<line x1="231.49" y1="311.57" x2="231.49" y2="313.37" stroke="#1d4f8c" stroke-width="0.8"/>
<line x1="272.41" y1="311.57" x2="272.41" y2="313.37" stroke="#1d4f8c" stroke-width="0.8"/>
<line x1="217.50" y1="269.80" x2="217.50" y2="334.00" stroke="#2a2a2a" stroke-width="1.35"/>
<line x1="216.90" y1="333.40" x2="326.90" y2="333.40" stroke="#2a2a2a" stroke-width="1.35"/>
<line x1="214.70" y1="333.40" x2="217.50" y2="333.40" stroke="#2a2a2a" stroke-width="1"/>
<text x="211.20" y="336.10" font-size="8.4" text-anchor="end" fill="#2e2e2e" stroke="#2e2e2e" stroke-width="0.12" textLength="4.50" lengthAdjust="spacingAndGlyphs">0</text>
<line x1="214.70" y1="321.08" x2="217.50" y2="321.08" stroke="#2a2a2a" stroke-width="1"/>
<text x="211.20" y="323.78" font-size="8.4" text-anchor="end" fill="#2e2e2e" stroke="#2e2e2e" stroke-width="0.12" textLength="9.00" lengthAdjust="spacingAndGlyphs">20</text>
<line x1="214.70" y1="308.76" x2="217.50" y2="308.76" stroke="#2a2a2a" stroke-width="1"/>
<text x="211.20" y="311.46" font-size="8.4" text-anchor="end" fill="#2e2e2e" stroke="#2e2e2e" stroke-width="0.12" textLength="9.00" lengthAdjust="spacingAndGlyphs">40</text>
<line x1="214.70" y1="296.44" x2="217.50" y2="296.44" stroke="#2a2a2a" stroke-width="1"/>
<text x="211.20" y="299.14" font-size="8.4" text-anchor="end" fill="#2e2e2e" stroke="#2e2e2e" stroke-width="0.12" textLength="9.00" lengthAdjust="spacingAndGlyphs">60</text>
<line x1="214.70" y1="284.12" x2="217.50" y2="284.12" stroke="#2a2a2a" stroke-width="1"/>
<text x="211.20" y="286.82" font-size="8.4" text-anchor="end" fill="#2e2e2e" stroke="#2e2e2e" stroke-width="0.12" textLength="9.00" lengthAdjust="spacingAndGlyphs">80</text>
<line x1="214.70" y1="271.80" x2="217.50" y2="271.80" stroke="#2a2a2a" stroke-width="1"/>
<text x="211.20" y="274.50" font-size="8.4" text-anchor="end" fill="#2e2e2e" stroke="#2e2e2e" stroke-width="0.12" textLength="13.50" lengthAdjust="spacingAndGlyphs">100</text>
<line x1="217.50" y1="333.40" x2="217.50" y2="336.00" stroke="#2a2a2a" stroke-width="1"/>
<text x="217.50" y="346.20" font-size="8.4" text-anchor="middle" fill="#2e2e2e" stroke="#2e2e2e" stroke-width="0.12" textLength="4.60" lengthAdjust="spacingAndGlyphs">0</text>
<line x1="235.17" y1="333.40" x2="235.17" y2="336.00" stroke="#2a2a2a" stroke-width="1"/>
<text x="235.17" y="346.20" font-size="8.4" text-anchor="middle" fill="#2e2e2e" stroke="#2e2e2e" stroke-width="0.12" textLength="9.20" lengthAdjust="spacingAndGlyphs">12</text>
<line x1="252.83" y1="333.40" x2="252.83" y2="336.00" stroke="#2a2a2a" stroke-width="1"/>
<text x="252.83" y="346.20" font-size="8.4" text-anchor="middle" fill="#2e2e2e" stroke="#2e2e2e" stroke-width="0.12" textLength="9.20" lengthAdjust="spacingAndGlyphs">24</text>
<line x1="270.50" y1="333.40" x2="270.50" y2="336.00" stroke="#2a2a2a" stroke-width="1"/>
<text x="270.50" y="346.20" font-size="8.4" text-anchor="middle" fill="#2e2e2e" stroke="#2e2e2e" stroke-width="0.12" textLength="9.20" lengthAdjust="spacingAndGlyphs">36</text>
<line x1="288.17" y1="333.40" x2="288.17" y2="336.00" stroke="#2a2a2a" stroke-width="1"/>
<text x="288.17" y="346.20" font-size="8.4" text-anchor="middle" fill="#2e2e2e" stroke="#2e2e2e" stroke-width="0.12" textLength="9.20" lengthAdjust="spacingAndGlyphs">48</text>
<line x1="305.83" y1="333.40" x2="305.83" y2="336.00" stroke="#2a2a2a" stroke-width="1"/>
<text x="305.83" y="346.20" font-size="8.4" text-anchor="middle" fill="#2e2e2e" stroke="#2e2e2e" stroke-width="0.12" textLength="9.20" lengthAdjust="spacingAndGlyphs">60</text>
<line x1="323.50" y1="333.40" x2="323.50" y2="336.00" stroke="#2a2a2a" stroke-width="1"/>
<text x="323.50" y="346.20" font-size="8.4" text-anchor="middle" fill="#2e2e2e" stroke="#2e2e2e" stroke-width="0.12" textLength="9.20" lengthAdjust="spacingAndGlyphs">72</text>
<text x="228.70" y="360.00" font-size="9.7" text-anchor="start" fill="#2e2e2e" stroke="#2e2e2e" stroke-width="0.22" textLength="86.50" lengthAdjust="spacingAndGlyphs">Months since axi-cel infusion</text>
<text x="189.50" y="373.00" font-size="8.5" text-anchor="start" fill="#2e2e2e" stroke="#2e2e2e" stroke-width="0.12" textLength="30.20" lengthAdjust="spacingAndGlyphs">N. at risk</text>
<rect x="191.30" y="379.50" width="12.50" height="5.80" fill="#c8102e" stroke="#5a0a1a" stroke-width="0.5"/>
<text x="217.50" y="384.80" font-size="8.3" text-anchor="middle" fill="#2e2e2e" stroke="#2e2e2e" stroke-width="0.12" textLength="9.20" lengthAdjust="spacingAndGlyphs">33</text>
<text x="235.17" y="384.80" font-size="8.3" text-anchor="middle" fill="#2e2e2e" stroke="#2e2e2e" stroke-width="0.12" textLength="9.20" lengthAdjust="spacingAndGlyphs">15</text>
<text x="252.83" y="384.80" font-size="8.3" text-anchor="middle" fill="#2e2e2e" stroke="#2e2e2e" stroke-width="0.12" textLength="4.60" lengthAdjust="spacingAndGlyphs">5</text>
<text x="270.50" y="384.80" font-size="8.3" text-anchor="middle" fill="#2e2e2e" stroke="#2e2e2e" stroke-width="0.12" textLength="4.60" lengthAdjust="spacingAndGlyphs">5</text>
<text x="288.17" y="384.80" font-size="8.3" text-anchor="middle" fill="#2e2e2e" stroke="#2e2e2e" stroke-width="0.12" textLength="4.60" lengthAdjust="spacingAndGlyphs">3</text>
<text x="305.83" y="384.80" font-size="8.3" text-anchor="middle" fill="#2e2e2e" stroke="#2e2e2e" stroke-width="0.12" textLength="4.60" lengthAdjust="spacingAndGlyphs">1</text>
<text x="323.50" y="384.80" font-size="8.3" text-anchor="middle" fill="#2e2e2e" stroke="#2e2e2e" stroke-width="0.12" textLength="4.60" lengthAdjust="spacingAndGlyphs">0</text>
<rect x="191.30" y="391.80" width="12.50" height="5.80" fill="#1d4f8c" stroke="#0d2a50" stroke-width="0.5"/>
<text x="217.50" y="397.10" font-size="8.3" text-anchor="middle" fill="#2e2e2e" stroke="#2e2e2e" stroke-width="0.12" textLength="9.20" lengthAdjust="spacingAndGlyphs">15</text>
<text x="235.17" y="397.10" font-size="8.3" text-anchor="middle" fill="#2e2e2e" stroke="#2e2e2e" stroke-width="0.12" textLength="4.60" lengthAdjust="spacingAndGlyphs">1</text>
<text x="252.83" y="397.10" font-size="8.3" text-anchor="middle" fill="#2e2e2e" stroke="#2e2e2e" stroke-width="0.12" textLength="4.60" lengthAdjust="spacingAndGlyphs">1</text>
<text x="270.50" y="397.10" font-size="8.3" text-anchor="middle" fill="#2e2e2e" stroke="#2e2e2e" stroke-width="0.12" textLength="4.60" lengthAdjust="spacingAndGlyphs">1</text>
<text x="288.17" y="397.10" font-size="8.3" text-anchor="middle" fill="#2e2e2e" stroke="#2e2e2e" stroke-width="0.12" textLength="4.60" lengthAdjust="spacingAndGlyphs">0</text>
<text x="305.83" y="397.10" font-size="8.3" text-anchor="middle" fill="#2e2e2e" stroke="#2e2e2e" stroke-width="0.12" textLength="4.60" lengthAdjust="spacingAndGlyphs">0</text>
<text x="323.50" y="397.10" font-size="8.3" text-anchor="middle" fill="#2e2e2e" stroke="#2e2e2e" stroke-width="0.12" textLength="4.60" lengthAdjust="spacingAndGlyphs">0</text>
<text x="217.60" y="409.00" font-size="8.2" text-anchor="middle" fill="#2e2e2e" stroke="#2e2e2e" stroke-width="0.12" textLength="25.50" lengthAdjust="spacingAndGlyphs">Median</text>
<text x="253.00" y="409.00" font-size="8.2" text-anchor="middle" fill="#2e2e2e" stroke="#2e2e2e" stroke-width="0.12" textLength="28.40" lengthAdjust="spacingAndGlyphs">95% CI</text>
<text x="306.00" y="409.00" font-size="8.2" text-anchor="middle" fill="#2e2e2e" stroke="#2e2e2e" stroke-width="0.12" textLength="49.80" lengthAdjust="spacingAndGlyphs">1-year survival</text>
<rect x="191.30" y="416.40" width="12.50" height="5.80" fill="#c8102e" stroke="#5a0a1a" stroke-width="0.5"/>
<text x="217.60" y="421.70" font-size="8.3" text-anchor="middle" fill="#2e2e2e" stroke="#2e2e2e" stroke-width="0.12">11.8</text>
<text x="253.00" y="421.70" font-size="8.3" text-anchor="middle" fill="#2e2e2e" stroke="#2e2e2e" stroke-width="0.12">2.2-21.5</text>
<text x="306.00" y="421.70" font-size="8.3" text-anchor="middle" fill="#2e2e2e" stroke="#2e2e2e" stroke-width="0.12">47.7%</text>
<rect x="191.30" y="428.70" width="12.50" height="5.80" fill="#1d4f8c" stroke="#0d2a50" stroke-width="0.5"/>
<text x="217.60" y="434.00" font-size="8.3" text-anchor="middle" fill="#2e2e2e" stroke="#2e2e2e" stroke-width="0.12">4.7</text>
<text x="253.00" y="434.00" font-size="8.3" text-anchor="middle" fill="#2e2e2e" stroke="#2e2e2e" stroke-width="0.12">1.9-7.7</text>
<text x="306.00" y="434.00" font-size="8.3" text-anchor="middle" fill="#2e2e2e" stroke="#2e2e2e" stroke-width="0.12">33.3%</text>
<text x="454.70" y="263.60" font-size="10.5" text-anchor="middle" fill="#2e2e2e" stroke="#2e2e2e" stroke-width="0.12" textLength="15.30" lengthAdjust="spacingAndGlyphs">OS</text>
<text x="501.00" y="275.90" font-size="9" text-anchor="end" fill="#2e2e2e" stroke="#2e2e2e" stroke-width="0.12" textLength="31.2" lengthAdjust="spacingAndGlyphs"><tspan font-style="italic">P</tspan> = .901</text>
<text transform="translate(373.90,301.00) rotate(-90)" x="0" y="0" font-size="10" text-anchor="middle" fill="#2e2e2e" stroke="#2e2e2e" stroke-width="0.12" textLength="78" lengthAdjust="spacingAndGlyphs">Probability of survival (%)</text>
<path d="M400.20,271.80 H404.76 V276.11 H409.03 V279.81 H413.01 V296.44 H455.56" fill="none" stroke="#1d4f8c" stroke-width="1.35"/>
<path d="M400.20,271.80 H401.97 V273.65 H405.50 V276.11 H407.86 V279.44 H410.06 V284.12 H411.24 V286.40 H414.63 V287.57 H417.87 V289.85 H419.34 V292.13 H420.52 V292.87 H437.15 V296.44 H444.81 V299.52 H446.13 V301.98 H447.02 V304.45 H494.27" fill="none" stroke="#c8102e" stroke-width="1.35" stroke-opacity="0.85"/>
<line x1="423.61" y1="291.37" x2="423.61" y2="293.17" stroke="#c8102e" stroke-width="0.8"/>
<line x1="426.41" y1="291.37" x2="426.41" y2="293.17" stroke="#c8102e" stroke-width="0.8"/>
<line x1="429.35" y1="291.37" x2="429.35" y2="293.17" stroke="#c8102e" stroke-width="0.8"/>
<line x1="431.26" y1="291.37" x2="431.26" y2="293.17" stroke="#c8102e" stroke-width="0.8"/>
<line x1="433.18" y1="291.37" x2="433.18" y2="293.17" stroke="#c8102e" stroke-width="0.8"/>
<line x1="452.46" y1="302.95" x2="452.46" y2="304.75" stroke="#c8102e" stroke-width="0.8"/>
<line x1="456.29" y1="302.95" x2="456.29" y2="304.75" stroke="#c8102e" stroke-width="0.8"/>
<line x1="465.86" y1="302.95" x2="465.86" y2="304.75" stroke="#c8102e" stroke-width="0.8"/>
<line x1="468.81" y1="302.95" x2="468.81" y2="304.75" stroke="#c8102e" stroke-width="0.8"/>
<line x1="482.20" y1="302.95" x2="482.20" y2="304.75" stroke="#c8102e" stroke-width="0.8"/>
<line x1="486.03" y1="302.95" x2="486.03" y2="304.75" stroke="#c8102e" stroke-width="0.8"/>
<line x1="488.98" y1="302.95" x2="488.98" y2="304.75" stroke="#c8102e" stroke-width="0.8"/>
<line x1="492.80" y1="302.95" x2="492.80" y2="304.75" stroke="#c8102e" stroke-width="0.8"/>
<line x1="455.56" y1="294.94" x2="455.56" y2="296.74" stroke="#1d4f8c" stroke-width="0.8"/>
<line x1="400.20" y1="269.80" x2="400.20" y2="334.00" stroke="#2a2a2a" stroke-width="1.35"/>
<line x1="399.60" y1="333.40" x2="509.60" y2="333.40" stroke="#2a2a2a" stroke-width="1.35"/>
<line x1="397.40" y1="333.40" x2="400.20" y2="333.40" stroke="#2a2a2a" stroke-width="1"/>
<text x="393.90" y="336.10" font-size="8.4" text-anchor="end" fill="#2e2e2e" stroke="#2e2e2e" stroke-width="0.12" textLength="4.50" lengthAdjust="spacingAndGlyphs">0</text>
<line x1="397.40" y1="321.08" x2="400.20" y2="321.08" stroke="#2a2a2a" stroke-width="1"/>
<text x="393.90" y="323.78" font-size="8.4" text-anchor="end" fill="#2e2e2e" stroke="#2e2e2e" stroke-width="0.12" textLength="9.00" lengthAdjust="spacingAndGlyphs">20</text>
<line x1="397.40" y1="308.76" x2="400.20" y2="308.76" stroke="#2a2a2a" stroke-width="1"/>
<text x="393.90" y="311.46" font-size="8.4" text-anchor="end" fill="#2e2e2e" stroke="#2e2e2e" stroke-width="0.12" textLength="9.00" lengthAdjust="spacingAndGlyphs">40</text>
<line x1="397.40" y1="296.44" x2="400.20" y2="296.44" stroke="#2a2a2a" stroke-width="1"/>
<text x="393.90" y="299.14" font-size="8.4" text-anchor="end" fill="#2e2e2e" stroke="#2e2e2e" stroke-width="0.12" textLength="9.00" lengthAdjust="spacingAndGlyphs">60</text>
<line x1="397.40" y1="284.12" x2="400.20" y2="284.12" stroke="#2a2a2a" stroke-width="1"/>
<text x="393.90" y="286.82" font-size="8.4" text-anchor="end" fill="#2e2e2e" stroke="#2e2e2e" stroke-width="0.12" textLength="9.00" lengthAdjust="spacingAndGlyphs">80</text>
<line x1="397.40" y1="271.80" x2="400.20" y2="271.80" stroke="#2a2a2a" stroke-width="1"/>
<text x="393.90" y="274.50" font-size="8.4" text-anchor="end" fill="#2e2e2e" stroke="#2e2e2e" stroke-width="0.12" textLength="13.50" lengthAdjust="spacingAndGlyphs">100</text>
<line x1="400.20" y1="333.40" x2="400.20" y2="336.00" stroke="#2a2a2a" stroke-width="1"/>
<text x="400.20" y="346.20" font-size="8.4" text-anchor="middle" fill="#2e2e2e" stroke="#2e2e2e" stroke-width="0.12" textLength="4.60" lengthAdjust="spacingAndGlyphs">0</text>
<line x1="417.87" y1="333.40" x2="417.87" y2="336.00" stroke="#2a2a2a" stroke-width="1"/>
<text x="417.87" y="346.20" font-size="8.4" text-anchor="middle" fill="#2e2e2e" stroke="#2e2e2e" stroke-width="0.12" textLength="9.20" lengthAdjust="spacingAndGlyphs">12</text>
<line x1="435.53" y1="333.40" x2="435.53" y2="336.00" stroke="#2a2a2a" stroke-width="1"/>
<text x="435.53" y="346.20" font-size="8.4" text-anchor="middle" fill="#2e2e2e" stroke="#2e2e2e" stroke-width="0.12" textLength="9.20" lengthAdjust="spacingAndGlyphs">24</text>
<line x1="453.20" y1="333.40" x2="453.20" y2="336.00" stroke="#2a2a2a" stroke-width="1"/>
<text x="453.20" y="346.20" font-size="8.4" text-anchor="middle" fill="#2e2e2e" stroke="#2e2e2e" stroke-width="0.12" textLength="9.20" lengthAdjust="spacingAndGlyphs">36</text>
<line x1="470.87" y1="333.40" x2="470.87" y2="336.00" stroke="#2a2a2a" stroke-width="1"/>
<text x="470.87" y="346.20" font-size="8.4" text-anchor="middle" fill="#2e2e2e" stroke="#2e2e2e" stroke-width="0.12" textLength="9.20" lengthAdjust="spacingAndGlyphs">48</text>
<line x1="488.53" y1="333.40" x2="488.53" y2="336.00" stroke="#2a2a2a" stroke-width="1"/>
<text x="488.53" y="346.20" font-size="8.4" text-anchor="middle" fill="#2e2e2e" stroke="#2e2e2e" stroke-width="0.12" textLength="9.20" lengthAdjust="spacingAndGlyphs">60</text>
<line x1="506.20" y1="333.40" x2="506.20" y2="336.00" stroke="#2a2a2a" stroke-width="1"/>
<text x="506.20" y="346.20" font-size="8.4" text-anchor="middle" fill="#2e2e2e" stroke="#2e2e2e" stroke-width="0.12" textLength="9.20" lengthAdjust="spacingAndGlyphs">72</text>
<text x="411.40" y="360.00" font-size="9.7" text-anchor="start" fill="#2e2e2e" stroke="#2e2e2e" stroke-width="0.22" textLength="86.50" lengthAdjust="spacingAndGlyphs">Months since axi-cel infusion</text>
<text x="372.20" y="373.00" font-size="8.5" text-anchor="start" fill="#2e2e2e" stroke="#2e2e2e" stroke-width="0.12" textLength="30.20" lengthAdjust="spacingAndGlyphs">N. at risk</text>
<rect x="374.00" y="379.50" width="12.50" height="5.80" fill="#c8102e" stroke="#5a0a1a" stroke-width="0.5"/>
<text x="400.20" y="384.80" font-size="8.3" text-anchor="middle" fill="#2e2e2e" stroke="#2e2e2e" stroke-width="0.12" textLength="9.20" lengthAdjust="spacingAndGlyphs">33</text>
<text x="417.87" y="384.80" font-size="8.3" text-anchor="middle" fill="#2e2e2e" stroke="#2e2e2e" stroke-width="0.12" textLength="9.20" lengthAdjust="spacingAndGlyphs">24</text>
<text x="435.53" y="384.80" font-size="8.3" text-anchor="middle" fill="#2e2e2e" stroke="#2e2e2e" stroke-width="0.12" textLength="9.20" lengthAdjust="spacingAndGlyphs">14</text>
<text x="453.20" y="384.80" font-size="8.3" text-anchor="middle" fill="#2e2e2e" stroke="#2e2e2e" stroke-width="0.12" textLength="4.60" lengthAdjust="spacingAndGlyphs">9</text>
<text x="470.87" y="384.80" font-size="8.3" text-anchor="middle" fill="#2e2e2e" stroke="#2e2e2e" stroke-width="0.12" textLength="4.60" lengthAdjust="spacingAndGlyphs">5</text>
<text x="488.53" y="384.80" font-size="8.3" text-anchor="middle" fill="#2e2e2e" stroke="#2e2e2e" stroke-width="0.12" textLength="4.60" lengthAdjust="spacingAndGlyphs">3</text>
<text x="506.20" y="384.80" font-size="8.3" text-anchor="middle" fill="#2e2e2e" stroke="#2e2e2e" stroke-width="0.12" textLength="4.60" lengthAdjust="spacingAndGlyphs">0</text>
<rect x="374.00" y="391.80" width="12.50" height="5.80" fill="#1d4f8c" stroke="#0d2a50" stroke-width="0.5"/>
<text x="400.20" y="397.10" font-size="8.3" text-anchor="middle" fill="#2e2e2e" stroke="#2e2e2e" stroke-width="0.12" textLength="9.20" lengthAdjust="spacingAndGlyphs">15</text>
<text x="417.87" y="397.10" font-size="8.3" text-anchor="middle" fill="#2e2e2e" stroke="#2e2e2e" stroke-width="0.12" textLength="4.60" lengthAdjust="spacingAndGlyphs">1</text>
<text x="435.53" y="397.10" font-size="8.3" text-anchor="middle" fill="#2e2e2e" stroke="#2e2e2e" stroke-width="0.12" textLength="4.60" lengthAdjust="spacingAndGlyphs">1</text>
<text x="453.20" y="397.10" font-size="8.3" text-anchor="middle" fill="#2e2e2e" stroke="#2e2e2e" stroke-width="0.12" textLength="4.60" lengthAdjust="spacingAndGlyphs">1</text>
<text x="470.87" y="397.10" font-size="8.3" text-anchor="middle" fill="#2e2e2e" stroke="#2e2e2e" stroke-width="0.12" textLength="4.60" lengthAdjust="spacingAndGlyphs">0</text>
<text x="488.53" y="397.10" font-size="8.3" text-anchor="middle" fill="#2e2e2e" stroke="#2e2e2e" stroke-width="0.12" textLength="4.60" lengthAdjust="spacingAndGlyphs">0</text>
<text x="506.20" y="397.10" font-size="8.3" text-anchor="middle" fill="#2e2e2e" stroke="#2e2e2e" stroke-width="0.12" textLength="4.60" lengthAdjust="spacingAndGlyphs">0</text>
<text x="400.30" y="409.00" font-size="8.2" text-anchor="middle" fill="#2e2e2e" stroke="#2e2e2e" stroke-width="0.12" textLength="25.50" lengthAdjust="spacingAndGlyphs">Median</text>
<text x="435.70" y="409.00" font-size="8.2" text-anchor="middle" fill="#2e2e2e" stroke="#2e2e2e" stroke-width="0.12" textLength="28.40" lengthAdjust="spacingAndGlyphs">95% CI</text>
<text x="488.70" y="409.00" font-size="8.2" text-anchor="middle" fill="#2e2e2e" stroke="#2e2e2e" stroke-width="0.12" textLength="49.80" lengthAdjust="spacingAndGlyphs">1-year survival</text>
<rect x="374.00" y="416.40" width="12.50" height="5.80" fill="#c8102e" stroke="#5a0a1a" stroke-width="0.5"/>
<text x="400.30" y="421.70" font-size="8.3" text-anchor="middle" fill="#2e2e2e" stroke="#2e2e2e" stroke-width="0.12">32.4</text>
<text x="435.70" y="421.70" font-size="8.3" text-anchor="middle" fill="#2e2e2e" stroke="#2e2e2e" stroke-width="0.12">na-na</text>
<text x="488.70" y="421.70" font-size="8.3" text-anchor="middle" fill="#2e2e2e" stroke="#2e2e2e" stroke-width="0.12">75.2%</text>
<rect x="374.00" y="428.70" width="12.50" height="5.80" fill="#1d4f8c" stroke="#0d2a50" stroke-width="0.5"/>
<text x="400.30" y="434.00" font-size="8.3" text-anchor="middle" fill="#2e2e2e" stroke="#2e2e2e" stroke-width="0.12">na</text>
<text x="435.70" y="434.00" font-size="8.3" text-anchor="middle" fill="#2e2e2e" stroke="#2e2e2e" stroke-width="0.12">na-na</text>
<text x="488.70" y="434.00" font-size="8.3" text-anchor="middle" fill="#2e2e2e" stroke="#2e2e2e" stroke-width="0.12">60.5%</text>
<rect x="308.00" y="440.50" width="12.60" height="5.90" fill="#c8102e" stroke="#5a0a1a" stroke-width="0.5"/>
<text x="323.90" y="445.90" font-size="8.5" text-anchor="start" fill="#2e2e2e" stroke="#2e2e2e" stroke-width="0.12" textLength="21.80" lengthAdjust="spacingAndGlyphs">Flu/Cy</text>
<rect x="351.60" y="440.50" width="12.20" height="5.90" fill="#1d4f8c" stroke="#0d2a50" stroke-width="0.5"/>
<text x="367.30" y="445.90" font-size="8.5" text-anchor="start" fill="#2e2e2e" stroke="#2e2e2e" stroke-width="0.12" textLength="20.70" lengthAdjust="spacingAndGlyphs">Benda</text>
<text x="272.00" y="485.60" font-size="10.5" text-anchor="middle" fill="#2e2e2e" stroke="#2e2e2e" stroke-width="0.12" textLength="18.00" lengthAdjust="spacingAndGlyphs">PFS</text>
<text x="318.30" y="497.90" font-size="9" text-anchor="end" fill="#2e2e2e" stroke="#2e2e2e" stroke-width="0.12" textLength="29" lengthAdjust="spacingAndGlyphs"><tspan font-style="italic">P</tspan> = .931</text>
<text transform="translate(191.20,523.00) rotate(-90)" x="0" y="0" font-size="10" text-anchor="middle" fill="#2e2e2e" stroke="#2e2e2e" stroke-width="0.12" textLength="78" lengthAdjust="spacingAndGlyphs">Probability of survival (%)</text>
<path d="M217.50,493.80 H226.19 V502.61 H235.76 V511.42 H243.71 V520.23 H247.24 V528.97 H291.11 V542.22 H301.42" fill="none" stroke="#1d4f8c" stroke-width="1.35"/>
<path d="M217.50,493.80 H248.12 V509.20 H253.72 V524.60 H285.52 V555.40 H285.52" fill="none" stroke="#c8102e" stroke-width="1.35" stroke-opacity="0.85"/>
<line x1="257.25" y1="523.10" x2="257.25" y2="524.90" stroke="#c8102e" stroke-width="0.8"/>
<line x1="301.42" y1="540.72" x2="301.42" y2="542.52" stroke="#1d4f8c" stroke-width="0.8"/>
<line x1="217.50" y1="491.80" x2="217.50" y2="556.00" stroke="#2a2a2a" stroke-width="1.35"/>
<line x1="216.90" y1="555.40" x2="326.90" y2="555.40" stroke="#2a2a2a" stroke-width="1.35"/>
<line x1="214.70" y1="555.40" x2="217.50" y2="555.40" stroke="#2a2a2a" stroke-width="1"/>
<text x="211.20" y="558.10" font-size="8.4" text-anchor="end" fill="#2e2e2e" stroke="#2e2e2e" stroke-width="0.12" textLength="4.50" lengthAdjust="spacingAndGlyphs">0</text>
<line x1="214.70" y1="543.08" x2="217.50" y2="543.08" stroke="#2a2a2a" stroke-width="1"/>
<text x="211.20" y="545.78" font-size="8.4" text-anchor="end" fill="#2e2e2e" stroke="#2e2e2e" stroke-width="0.12" textLength="9.00" lengthAdjust="spacingAndGlyphs">20</text>
<line x1="214.70" y1="530.76" x2="217.50" y2="530.76" stroke="#2a2a2a" stroke-width="1"/>
<text x="211.20" y="533.46" font-size="8.4" text-anchor="end" fill="#2e2e2e" stroke="#2e2e2e" stroke-width="0.12" textLength="9.00" lengthAdjust="spacingAndGlyphs">40</text>
<line x1="214.70" y1="518.44" x2="217.50" y2="518.44" stroke="#2a2a2a" stroke-width="1"/>
<text x="211.20" y="521.14" font-size="8.4" text-anchor="end" fill="#2e2e2e" stroke="#2e2e2e" stroke-width="0.12" textLength="9.00" lengthAdjust="spacingAndGlyphs">60</text>
<line x1="214.70" y1="506.12" x2="217.50" y2="506.12" stroke="#2a2a2a" stroke-width="1"/>
<text x="211.20" y="508.82" font-size="8.4" text-anchor="end" fill="#2e2e2e" stroke="#2e2e2e" stroke-width="0.12" textLength="9.00" lengthAdjust="spacingAndGlyphs">80</text>
<line x1="214.70" y1="493.80" x2="217.50" y2="493.80" stroke="#2a2a2a" stroke-width="1"/>
<text x="211.20" y="496.50" font-size="8.4" text-anchor="end" fill="#2e2e2e" stroke="#2e2e2e" stroke-width="0.12" textLength="13.50" lengthAdjust="spacingAndGlyphs">100</text>
<line x1="217.50" y1="555.40" x2="217.50" y2="558.00" stroke="#2a2a2a" stroke-width="1"/>
<text x="217.50" y="568.20" font-size="8.4" text-anchor="middle" fill="#2e2e2e" stroke="#2e2e2e" stroke-width="0.12" textLength="4.60" lengthAdjust="spacingAndGlyphs">0</text>
<line x1="252.83" y1="555.40" x2="252.83" y2="558.00" stroke="#2a2a2a" stroke-width="1"/>
<text x="252.83" y="568.20" font-size="8.4" text-anchor="middle" fill="#2e2e2e" stroke="#2e2e2e" stroke-width="0.12" textLength="9.20" lengthAdjust="spacingAndGlyphs">12</text>
<line x1="288.17" y1="555.40" x2="288.17" y2="558.00" stroke="#2a2a2a" stroke-width="1"/>
<text x="288.17" y="568.20" font-size="8.4" text-anchor="middle" fill="#2e2e2e" stroke="#2e2e2e" stroke-width="0.12" textLength="9.20" lengthAdjust="spacingAndGlyphs">24</text>
<line x1="323.50" y1="555.40" x2="323.50" y2="558.00" stroke="#2a2a2a" stroke-width="1"/>
<text x="323.50" y="568.20" font-size="8.4" text-anchor="middle" fill="#2e2e2e" stroke="#2e2e2e" stroke-width="0.12" textLength="9.20" lengthAdjust="spacingAndGlyphs">36</text>
<text x="228.70" y="582.00" font-size="9.7" text-anchor="start" fill="#2e2e2e" stroke="#2e2e2e" stroke-width="0.22" textLength="86.50" lengthAdjust="spacingAndGlyphs">Months since axi-cel infusion</text>
<text x="189.50" y="595.00" font-size="8.5" text-anchor="start" fill="#2e2e2e" stroke="#2e2e2e" stroke-width="0.12" textLength="30.20" lengthAdjust="spacingAndGlyphs">N. at risk</text>
<rect x="191.30" y="601.50" width="12.50" height="5.80" fill="#c8102e" stroke="#5a0a1a" stroke-width="0.5"/>
<text x="217.50" y="606.80" font-size="8.3" text-anchor="middle" fill="#2e2e2e" stroke="#2e2e2e" stroke-width="0.12" textLength="4.60" lengthAdjust="spacingAndGlyphs">4</text>
<text x="252.83" y="606.80" font-size="8.3" text-anchor="middle" fill="#2e2e2e" stroke="#2e2e2e" stroke-width="0.12" textLength="4.60" lengthAdjust="spacingAndGlyphs">3</text>
<text x="288.17" y="606.80" font-size="8.3" text-anchor="middle" fill="#2e2e2e" stroke="#2e2e2e" stroke-width="0.12" textLength="4.60" lengthAdjust="spacingAndGlyphs">0</text>
<text x="323.50" y="606.80" font-size="8.3" text-anchor="middle" fill="#2e2e2e" stroke="#2e2e2e" stroke-width="0.12" textLength="4.60" lengthAdjust="spacingAndGlyphs">0</text>
<rect x="191.30" y="613.80" width="12.50" height="5.80" fill="#1d4f8c" stroke="#0d2a50" stroke-width="0.5"/>
<text x="217.50" y="619.10" font-size="8.3" text-anchor="middle" fill="#2e2e2e" stroke="#2e2e2e" stroke-width="0.12" textLength="4.60" lengthAdjust="spacingAndGlyphs">7</text>
<text x="252.83" y="619.10" font-size="8.3" text-anchor="middle" fill="#2e2e2e" stroke="#2e2e2e" stroke-width="0.12" textLength="4.60" lengthAdjust="spacingAndGlyphs">3</text>
<text x="288.17" y="619.10" font-size="8.3" text-anchor="middle" fill="#2e2e2e" stroke="#2e2e2e" stroke-width="0.12" textLength="4.60" lengthAdjust="spacingAndGlyphs">2</text>
<text x="323.50" y="619.10" font-size="8.3" text-anchor="middle" fill="#2e2e2e" stroke="#2e2e2e" stroke-width="0.12" textLength="4.60" lengthAdjust="spacingAndGlyphs">0</text>
<text x="217.60" y="631.00" font-size="8.2" text-anchor="middle" fill="#2e2e2e" stroke="#2e2e2e" stroke-width="0.12" textLength="25.50" lengthAdjust="spacingAndGlyphs">Median</text>
<text x="253.00" y="631.00" font-size="8.2" text-anchor="middle" fill="#2e2e2e" stroke="#2e2e2e" stroke-width="0.12" textLength="28.40" lengthAdjust="spacingAndGlyphs">95% CI</text>
<text x="306.00" y="631.00" font-size="8.2" text-anchor="middle" fill="#2e2e2e" stroke="#2e2e2e" stroke-width="0.12" textLength="49.80" lengthAdjust="spacingAndGlyphs">1-year survival</text>
<rect x="191.30" y="638.40" width="12.50" height="5.80" fill="#c8102e" stroke="#5a0a1a" stroke-width="0.5"/>
<text x="217.60" y="643.70" font-size="8.3" text-anchor="middle" fill="#2e2e2e" stroke="#2e2e2e" stroke-width="0.12">12.3</text>
<text x="253.00" y="643.70" font-size="8.3" text-anchor="middle" fill="#2e2e2e" stroke="#2e2e2e" stroke-width="0.12">4.2-20.4</text>
<text x="306.00" y="643.70" font-size="8.3" text-anchor="middle" fill="#2e2e2e" stroke="#2e2e2e" stroke-width="0.12">75.0%</text>
<rect x="191.30" y="650.70" width="12.50" height="5.80" fill="#1d4f8c" stroke="#0d2a50" stroke-width="0.5"/>
<text x="217.60" y="656.00" font-size="8.3" text-anchor="middle" fill="#2e2e2e" stroke="#2e2e2e" stroke-width="0.12">10.2</text>
<text x="253.00" y="656.00" font-size="8.3" text-anchor="middle" fill="#2e2e2e" stroke="#2e2e2e" stroke-width="0.12">7.4-13.1</text>
<text x="306.00" y="656.00" font-size="8.3" text-anchor="middle" fill="#2e2e2e" stroke="#2e2e2e" stroke-width="0.12">42.9%</text>
<text x="454.70" y="485.60" font-size="10.5" text-anchor="middle" fill="#2e2e2e" stroke="#2e2e2e" stroke-width="0.12" textLength="15.30" lengthAdjust="spacingAndGlyphs">OS</text>
<text x="500.50" y="504.30" font-size="9" text-anchor="end" fill="#2e2e2e" stroke="#2e2e2e" stroke-width="0.12" textLength="36.4" lengthAdjust="spacingAndGlyphs"><tspan font-style="italic">P</tspan> = 1.000</text>
<text transform="translate(373.90,523.00) rotate(-90)" x="0" y="0" font-size="10" text-anchor="middle" fill="#2e2e2e" stroke="#2e2e2e" stroke-width="0.12" textLength="78" lengthAdjust="spacingAndGlyphs">Probability of survival (%)</text>
<path d="M400.20,493.80 H482.35" fill="none" stroke="#1d4f8c" stroke-width="1.35"/>
<path d="M400.20,493.80 H470.28" fill="none" stroke="#c8102e" stroke-width="1.35" stroke-opacity="0.85"/>
<line x1="437.01" y1="492.30" x2="437.01" y2="494.10" stroke="#c8102e" stroke-width="0.8"/>
<line x1="441.42" y1="492.30" x2="441.42" y2="494.10" stroke="#c8102e" stroke-width="0.8"/>
<line x1="447.31" y1="492.30" x2="447.31" y2="494.10" stroke="#c8102e" stroke-width="0.8"/>
<line x1="453.20" y1="492.30" x2="453.20" y2="494.10" stroke="#c8102e" stroke-width="0.8"/>
<line x1="457.62" y1="492.30" x2="457.62" y2="494.10" stroke="#c8102e" stroke-width="0.8"/>
<line x1="470.28" y1="492.30" x2="470.28" y2="494.10" stroke="#c8102e" stroke-width="0.8"/>
<line x1="470.87" y1="492.30" x2="470.87" y2="494.10" stroke="#1d4f8c" stroke-width="0.8"/>
<line x1="476.76" y1="492.30" x2="476.76" y2="494.10" stroke="#1d4f8c" stroke-width="0.8"/>
<line x1="482.35" y1="492.30" x2="482.35" y2="494.10" stroke="#1d4f8c" stroke-width="0.8"/>
<line x1="400.20" y1="491.80" x2="400.20" y2="556.00" stroke="#2a2a2a" stroke-width="1.35"/>
<line x1="399.60" y1="555.40" x2="509.60" y2="555.40" stroke="#2a2a2a" stroke-width="1.35"/>
<line x1="397.40" y1="555.40" x2="400.20" y2="555.40" stroke="#2a2a2a" stroke-width="1"/>
<text x="393.90" y="558.10" font-size="8.4" text-anchor="end" fill="#2e2e2e" stroke="#2e2e2e" stroke-width="0.12" textLength="4.50" lengthAdjust="spacingAndGlyphs">0</text>
<line x1="397.40" y1="543.08" x2="400.20" y2="543.08" stroke="#2a2a2a" stroke-width="1"/>
<text x="393.90" y="545.78" font-size="8.4" text-anchor="end" fill="#2e2e2e" stroke="#2e2e2e" stroke-width="0.12" textLength="9.00" lengthAdjust="spacingAndGlyphs">20</text>
<line x1="397.40" y1="530.76" x2="400.20" y2="530.76" stroke="#2a2a2a" stroke-width="1"/>
<text x="393.90" y="533.46" font-size="8.4" text-anchor="end" fill="#2e2e2e" stroke="#2e2e2e" stroke-width="0.12" textLength="9.00" lengthAdjust="spacingAndGlyphs">40</text>
<line x1="397.40" y1="518.44" x2="400.20" y2="518.44" stroke="#2a2a2a" stroke-width="1"/>
<text x="393.90" y="521.14" font-size="8.4" text-anchor="end" fill="#2e2e2e" stroke="#2e2e2e" stroke-width="0.12" textLength="9.00" lengthAdjust="spacingAndGlyphs">60</text>
<line x1="397.40" y1="506.12" x2="400.20" y2="506.12" stroke="#2a2a2a" stroke-width="1"/>
<text x="393.90" y="508.82" font-size="8.4" text-anchor="end" fill="#2e2e2e" stroke="#2e2e2e" stroke-width="0.12" textLength="9.00" lengthAdjust="spacingAndGlyphs">80</text>
<line x1="397.40" y1="493.80" x2="400.20" y2="493.80" stroke="#2a2a2a" stroke-width="1"/>
<text x="393.90" y="496.50" font-size="8.4" text-anchor="end" fill="#2e2e2e" stroke="#2e2e2e" stroke-width="0.12" textLength="13.50" lengthAdjust="spacingAndGlyphs">100</text>
<line x1="400.20" y1="555.40" x2="400.20" y2="558.00" stroke="#2a2a2a" stroke-width="1"/>
<text x="400.20" y="568.20" font-size="8.4" text-anchor="middle" fill="#2e2e2e" stroke="#2e2e2e" stroke-width="0.12" textLength="4.60" lengthAdjust="spacingAndGlyphs">0</text>
<line x1="435.53" y1="555.40" x2="435.53" y2="558.00" stroke="#2a2a2a" stroke-width="1"/>
<text x="435.53" y="568.20" font-size="8.4" text-anchor="middle" fill="#2e2e2e" stroke="#2e2e2e" stroke-width="0.12" textLength="9.20" lengthAdjust="spacingAndGlyphs">12</text>
<line x1="470.87" y1="555.40" x2="470.87" y2="558.00" stroke="#2a2a2a" stroke-width="1"/>
<text x="470.87" y="568.20" font-size="8.4" text-anchor="middle" fill="#2e2e2e" stroke="#2e2e2e" stroke-width="0.12" textLength="9.20" lengthAdjust="spacingAndGlyphs">24</text>
<line x1="506.20" y1="555.40" x2="506.20" y2="558.00" stroke="#2a2a2a" stroke-width="1"/>
<text x="506.20" y="568.20" font-size="8.4" text-anchor="middle" fill="#2e2e2e" stroke="#2e2e2e" stroke-width="0.12" textLength="9.20" lengthAdjust="spacingAndGlyphs">36</text>
<text x="411.40" y="582.00" font-size="9.7" text-anchor="start" fill="#2e2e2e" stroke="#2e2e2e" stroke-width="0.22" textLength="86.50" lengthAdjust="spacingAndGlyphs">Months since axi-cel infusion</text>
<text x="372.20" y="595.00" font-size="8.5" text-anchor="start" fill="#2e2e2e" stroke="#2e2e2e" stroke-width="0.12" textLength="30.20" lengthAdjust="spacingAndGlyphs">N. at risk</text>
<rect x="374.00" y="601.50" width="12.50" height="5.80" fill="#c8102e" stroke="#5a0a1a" stroke-width="0.5"/>
<text x="400.20" y="606.80" font-size="8.3" text-anchor="middle" fill="#2e2e2e" stroke="#2e2e2e" stroke-width="0.12" textLength="4.60" lengthAdjust="spacingAndGlyphs">4</text>
<text x="435.53" y="606.80" font-size="8.3" text-anchor="middle" fill="#2e2e2e" stroke="#2e2e2e" stroke-width="0.12" textLength="4.60" lengthAdjust="spacingAndGlyphs">3</text>
<text x="470.87" y="606.80" font-size="8.3" text-anchor="middle" fill="#2e2e2e" stroke="#2e2e2e" stroke-width="0.12" textLength="4.60" lengthAdjust="spacingAndGlyphs">0</text>
<text x="506.20" y="606.80" font-size="8.3" text-anchor="middle" fill="#2e2e2e" stroke="#2e2e2e" stroke-width="0.12" textLength="4.60" lengthAdjust="spacingAndGlyphs">0</text>
<rect x="374.00" y="613.80" width="12.50" height="5.80" fill="#1d4f8c" stroke="#0d2a50" stroke-width="0.5"/>
<text x="400.20" y="619.10" font-size="8.3" text-anchor="middle" fill="#2e2e2e" stroke="#2e2e2e" stroke-width="0.12" textLength="4.60" lengthAdjust="spacingAndGlyphs">7</text>
<text x="435.53" y="619.10" font-size="8.3" text-anchor="middle" fill="#2e2e2e" stroke="#2e2e2e" stroke-width="0.12" textLength="4.60" lengthAdjust="spacingAndGlyphs">7</text>
<text x="470.87" y="619.10" font-size="8.3" text-anchor="middle" fill="#2e2e2e" stroke="#2e2e2e" stroke-width="0.12" textLength="4.60" lengthAdjust="spacingAndGlyphs">4</text>
<text x="506.20" y="619.10" font-size="8.3" text-anchor="middle" fill="#2e2e2e" stroke="#2e2e2e" stroke-width="0.12" textLength="4.60" lengthAdjust="spacingAndGlyphs">0</text>
<text x="400.30" y="631.00" font-size="8.2" text-anchor="middle" fill="#2e2e2e" stroke="#2e2e2e" stroke-width="0.12" textLength="25.50" lengthAdjust="spacingAndGlyphs">Median</text>
<text x="435.70" y="631.00" font-size="8.2" text-anchor="middle" fill="#2e2e2e" stroke="#2e2e2e" stroke-width="0.12" textLength="28.40" lengthAdjust="spacingAndGlyphs">95% CI</text>
<text x="488.70" y="631.00" font-size="8.2" text-anchor="middle" fill="#2e2e2e" stroke="#2e2e2e" stroke-width="0.12" textLength="49.80" lengthAdjust="spacingAndGlyphs">1-year survival</text>
<rect x="374.00" y="638.40" width="12.50" height="5.80" fill="#c8102e" stroke="#5a0a1a" stroke-width="0.5"/>
<text x="400.30" y="643.70" font-size="8.3" text-anchor="middle" fill="#2e2e2e" stroke="#2e2e2e" stroke-width="0.12">na</text>
<text x="435.70" y="643.70" font-size="8.3" text-anchor="middle" fill="#2e2e2e" stroke="#2e2e2e" stroke-width="0.12">na-na</text>
<text x="488.70" y="643.70" font-size="8.3" text-anchor="middle" fill="#2e2e2e" stroke="#2e2e2e" stroke-width="0.12">100.0%</text>
<rect x="374.00" y="650.70" width="12.50" height="5.80" fill="#1d4f8c" stroke="#0d2a50" stroke-width="0.5"/>
<text x="400.30" y="656.00" font-size="8.3" text-anchor="middle" fill="#2e2e2e" stroke="#2e2e2e" stroke-width="0.12">na</text>
<text x="435.70" y="656.00" font-size="8.3" text-anchor="middle" fill="#2e2e2e" stroke="#2e2e2e" stroke-width="0.12">na-na</text>
<text x="488.70" y="656.00" font-size="8.3" text-anchor="middle" fill="#2e2e2e" stroke="#2e2e2e" stroke-width="0.12">100.0%</text>
<rect x="308.00" y="662.50" width="12.60" height="5.90" fill="#c8102e" stroke="#5a0a1a" stroke-width="0.5"/>
<text x="323.90" y="667.90" font-size="8.5" text-anchor="start" fill="#2e2e2e" stroke="#2e2e2e" stroke-width="0.12" textLength="21.80" lengthAdjust="spacingAndGlyphs">Flu/Cy</text>
<rect x="351.60" y="662.50" width="12.20" height="5.90" fill="#1d4f8c" stroke="#0d2a50" stroke-width="0.5"/>
<text x="367.30" y="667.90" font-size="8.5" text-anchor="start" fill="#2e2e2e" stroke="#2e2e2e" stroke-width="0.12" textLength="20.70" lengthAdjust="spacingAndGlyphs">Benda</text>
<rect x="0.5" y="0.5" width="519" height="675" fill="none" stroke="#4a4a4a" stroke-width="1.1"/>
</svg>
</body></html>
